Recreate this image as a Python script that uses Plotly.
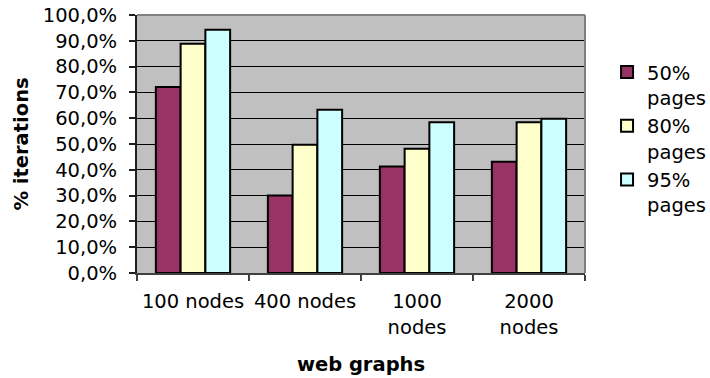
import plotly.graph_objects as go

# Share of iterations needed, per web graph size and page coverage target
categories = ["100 nodes", "400 nodes", "1000<br>nodes", "2000<br>nodes"]
pages_50 = [72.1, 30.0, 41.3, 43.1]
pages_80 = [88.9, 49.7, 48.2, 58.4]
pages_95 = [94.3, 63.3, 58.4, 59.8]
series_names = ["50%<br>pages", "80%<br>pages", "95%<br>pages"]
series_colors = ["#993366", "#FFFFCC", "#CCFFFF"]

FONT = "Verdana, DejaVu Sans, sans-serif"
FS = 19.5

fig = go.Figure()
for name, values, color in zip(series_names, [pages_50, pages_80, pages_95], series_colors):
    fig.add_trace(go.Bar(
        x=categories, y=values, name=name,
        marker=dict(color=color, line=dict(color="#000000", width=2)),
    ))

fig.update_layout(
    width=710, height=378,
    margin=dict(l=137, r=125, t=15, b=105),
    paper_bgcolor="#FFFFFF",
    plot_bgcolor="#C0C0C0",
    barmode="group",
    bargap=0.337,
    bargroupgap=0,
    separators=",.",
    font=dict(family=FONT, size=FS, color="#000000"),
    showlegend=True,
    legend=dict(
        xref="container", yref="container",
        x=0.855, y=0.86, xanchor="left", yanchor="top",
        valign="top", bgcolor="rgba(0,0,0,0)",
        font=dict(family=FONT, size=FS, color="#000000"),
        tracegroupgap=0,
    ),
)

fig.update_xaxes(
    type="category", automargin=False,
    showline=True, linecolor="#404040", linewidth=2,
    ticks="outside", ticklen=6, tickcolor="#404040", tickwidth=1.5,
    tickson="boundaries",
    ticklabelstandoff=10,
    showgrid=False,
    title=dict(text="<b>web graphs</b>", standoff=20,
               font=dict(family=FONT, size=FS, color="#000000")),
    tickfont=dict(family=FONT, size=FS, color="#000000"),
)

fig.update_yaxes(
    range=[0, 100], dtick=10, tick0=0, automargin=False,
    tickformat=".1f", ticksuffix="%",
    showline=True, linecolor="#202020", linewidth=2,
    ticks="outside", ticklen=6, tickcolor="#202020", tickwidth=1.5,
    ticklabelstandoff=8,
    showgrid=True, gridcolor="#000000", gridwidth=1,
    zeroline=False,
    title=dict(text="<b>% iterations</b>", standoff=9,
               font=dict(family=FONT, size=FS, color="#000000")),
    tickfont=dict(family=FONT, size=FS, color="#000000"),
)

# Gray frame on the top and right of the plot area
fig.add_shape(type="line", xref="paper", yref="paper", x0=0, x1=1, y0=1, y1=1,
              line=dict(color="#808080", width=2), layer="above")
fig.add_shape(type="line", xref="paper", yref="paper", x0=1, x1=1, y0=0, y1=1,
              line=dict(color="#808080", width=2), layer="above")

fig.write_html("out.html")
